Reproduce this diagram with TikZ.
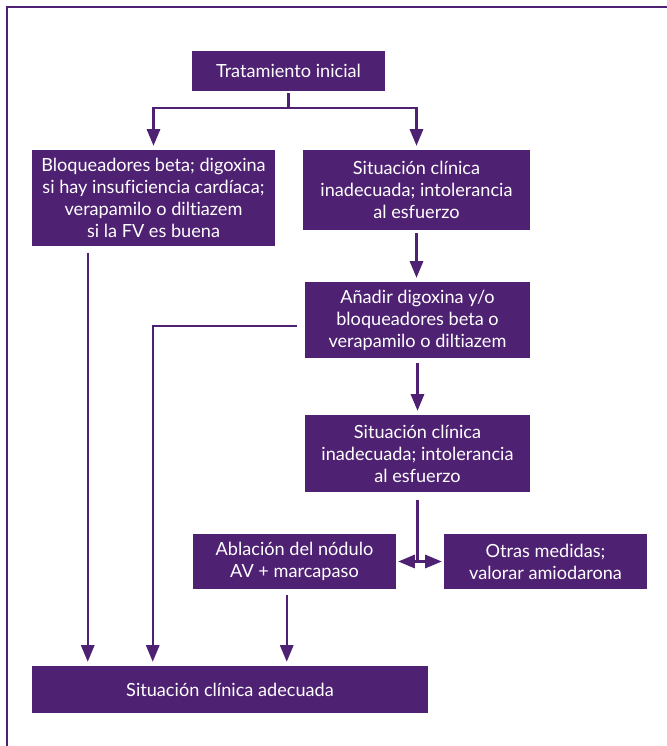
\documentclass[tikz,border=0pt]{standalone}
\usepackage{fontspec}
\setmainfont{Lato}[Ligatures=NoCommon]
\usetikzlibrary{arrows.meta}
\definecolor{violeta}{RGB}{79,33,115}
\tikzset{
  box/.style={fill=violeta, text=white, align=center, inner sep=0pt,
    font=\fontsize{13.6pt}{16.5pt}\selectfont},
  link/.style={draw=violeta, line width=1.6pt},
  arrowlink/.style={link, -{Triangle[width=10pt,length=12.5pt]}, shorten >=3pt},
  bothlink/.style={link, {Triangle[width=10pt,length=12.5pt]}-{Triangle[width=10pt,length=12.5pt]}},
  frameline/.style={draw=violeta, line width=1.5pt}
}
\begin{document}
\begin{tikzpicture}[x=0.75pt, y=-0.75pt]
\useasboundingbox (0,0) rectangle (667,746);
\draw[frameline] (667,7) -- (7,7) -- (7,746);

\node[box, minimum width=144.75pt, minimum height=30pt] (t0) at (288.5,71) {Tratamiento inicial};
\node[box, minimum width=182.25pt, minimum height=72pt] (b1) at (153.5,198)
  {Bloqueadores beta; digoxina\\si hay insuficiencia cardíaca;\\verapamilo o diltiazem\\si la FV es buena};
\node[box, minimum width=170.25pt, minimum height=60pt] (b2) at (416.5,190)
  {Situación clínica\\inadecuada; intolerancia\\al esfuerzo};
\node[box, minimum width=168.75pt, minimum height=57pt] (b3) at (417.5,320)
  {Añadir digoxina y/o\\bloqueadores beta o\\verapamilo o diltiazem};
\node[box, minimum width=168.75pt, minimum height=57.75pt] (b4) at (417.5,453.5)
  {Situación clínica\\inadecuada; intolerancia\\al esfuerzo};
\node[box, minimum width=152.25pt, minimum height=41.25pt] (b5) at (294.5,561.5)
  {Ablación del nódulo\\AV + marcapaso};
\node[box, minimum width=152.25pt, minimum height=41.25pt] (b6) at (545.5,561.5)
  {Otras medidas;\\valorar amiodarona};
\node[box, minimum width=297pt, minimum height=35.25pt] (b7) at (230,689.5)
  {Situación clínica adecuada};

% branching from the initial treatment
\coordinate (fork) at (288.5,108);
\draw[link, shorten <=1.5pt] (t0.south) -- (fork);
\draw[arrowlink] (fork) -| (b1.north);
\draw[arrowlink] (fork) -| (b2.north);

% right-hand column
\draw[arrowlink, shorten <=2.25pt] (b2.south) -- (b2.south |- b3.north);
\draw[arrowlink, shorten <=3.75pt] (b3.south) -- (b3.south |- b4.north);
\draw[link, shorten <=6pt] (b4.south) -- (b4.south |- b5.east);
\draw[bothlink, shorten <=1.5pt, shorten >=1.5pt] (b5.east) -- (b6.west);

% paths into the final box
\path (b1.south west) ++(56,0) coordinate (b1out);
\path (b7.north west) ++(121,0) coordinate (b7in);
\path (b5.south west) ++(94,0) coordinate (b5out);
\coordinate (b3out) at ([yshift=-4.5pt]b3.west);
\draw[arrowlink, shorten <=5pt] (b1out) -- (b1out |- b7.north);
\draw[arrowlink, shorten <=6pt] (b3out) -| (b7in);
\draw[arrowlink, shorten <=4.5pt] (b5out) -- (b5out |- b7.north);
\end{tikzpicture}
\end{document}
